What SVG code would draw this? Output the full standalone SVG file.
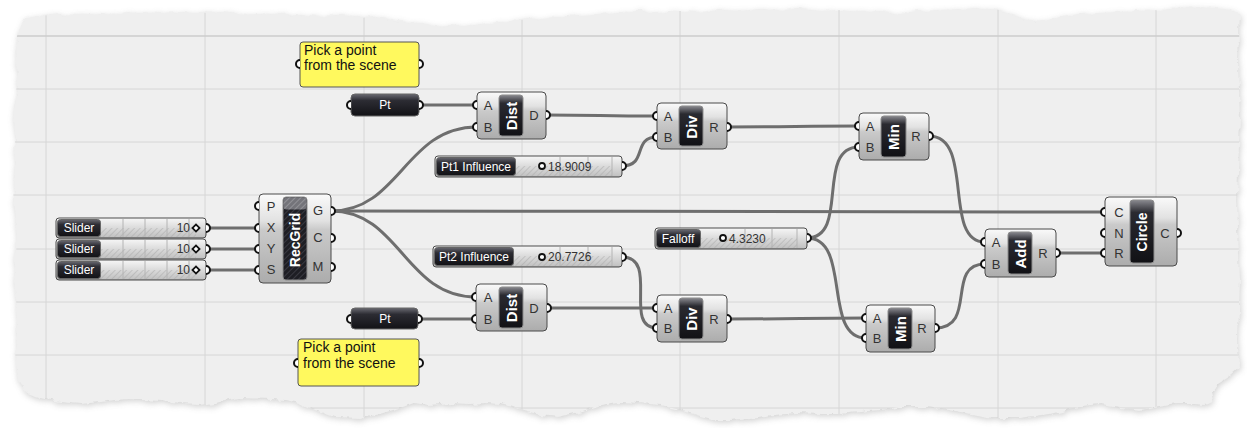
<svg xmlns="http://www.w3.org/2000/svg" width="1247" height="428" viewBox="0 0 1247 428">
<defs>
<linearGradient id="gBody" x1="0" y1="0" x2="0" y2="1">
<stop offset="0" stop-color="#fafafa"/><stop offset="0.3" stop-color="#e2e2e2"/><stop offset="0.4" stop-color="#cacaca"/><stop offset="1" stop-color="#acacac"/>
</linearGradient>
<linearGradient id="gCap" x1="0" y1="0" x2="0" y2="1">
<stop offset="0" stop-color="#8a8a90"/><stop offset="0.2" stop-color="#2a2a30"/><stop offset="1" stop-color="#111115"/>
</linearGradient>
<linearGradient id="gDark" x1="0" y1="0" x2="0" y2="1">
<stop offset="0" stop-color="#6a6a72"/><stop offset="0.3" stop-color="#2c2c33"/><stop offset="1" stop-color="#121216"/>
</linearGradient>
<linearGradient id="gTrack" x1="0" y1="0" x2="0" y2="1">
<stop offset="0" stop-color="#f4f4f4"/><stop offset="0.45" stop-color="#dddddd"/><stop offset="1" stop-color="#c2c2c2"/>
</linearGradient>
<pattern id="hatchD" width="4" height="4" patternUnits="userSpaceOnUse" patternTransform="rotate(45)">
<rect width="4" height="4" fill="#1e1e24"/><line x1="0" y1="0" x2="0" y2="4" stroke="#45454d" stroke-width="1.4"/>
</pattern>
<pattern id="hatch" width="4" height="4" patternUnits="userSpaceOnUse" patternTransform="rotate(45)">
<rect width="4" height="4" fill="#8a8a90"/><line x1="0" y1="0" x2="0" y2="4" stroke="#b5b5b8" stroke-width="1.4"/>
</pattern>
<pattern id="hatchL" width="4" height="4" patternUnits="userSpaceOnUse" patternTransform="rotate(45)">
<rect width="4" height="4" fill="none"/><line x1="0" y1="0" x2="0" y2="4" stroke="#a9a9a9" stroke-width="1"/>
</pattern>
<filter id="rough" x="-2%" y="-5%" width="104%" height="110%">
<feTurbulence type="fractalNoise" baseFrequency="0.09" numOctaves="3" seed="4" result="n"/>
<feDisplacementMap in="SourceGraphic" in2="n" scale="7" xChannelSelector="R" yChannelSelector="G"/>
</filter>
<filter id="shadow" x="-3%" y="-8%" width="106%" height="116%">
<feTurbulence type="fractalNoise" baseFrequency="0.09" numOctaves="3" seed="4" result="n"/>
<feDisplacementMap in="SourceGraphic" in2="n" scale="7" xChannelSelector="R" yChannelSelector="G" result="d"/>
<feGaussianBlur in="d" stdDeviation="3"/>
</filter>
<path id="paper" d="M18,30 L25,18 40,16 60,14 80,15 100,13 120,14 140,12 160,13 180,12 200,13 220,12 240,14 260,13 280,15 300,14 320,16 340,15 360,18 375,17 390,20 405,22 420,24 435,26 450,25 465,27 480,24 500,22 520,20 540,18 560,17 580,15 600,14 620,12 640,11 660,13 680,11 700,12 720,10 740,11 760,9 780,10 800,9 820,11 840,10 860,12 880,11 900,13 920,11 940,10 960,9 980,8 1000,10 1015,16 1030,21 1045,20 1060,16 1080,14 1100,13 1120,12 1140,11 1160,10 1180,8 1200,7 1215,8 1230,10 1240,14 1238,60 1240,120 1237,200 1240,280 1238,340 1239,368 1230,376 1219,383 1212,392 1214,400 1205,404 1195,403 1177,403 1160,406 1140,410 1120,408 1100,405 1074,408 1050,414 1020,418 994,418 970,414 950,410 925,407 899,407 880,410 860,412 840,414 820,414 795,413 775,415 750,418 730,420 716,420 700,416 680,410 660,405 640,403 620,402 600,405 580,412 557,417 540,415 520,409 500,404 485,403 470,404 450,403 430,405 414,403 400,408 380,414 360,418 334,417 315,410 300,403 285,400 270,399 239,398 220,402 200,405 180,404 160,401 140,400 130,399 115,400 100,402 80,404 60,402 40,398 25,392 18,380 15,360 18,320 14,280 17,240 13,200 16,160 14,120 17,80 15,50 Z"/>
<clipPath id="clipPaper"><use href="#paper"/></clipPath>
</defs>
<style>
.body{fill:url(#gBody);stroke:#4a4a4a;stroke-width:1}
.cap{fill:url(#gCap);stroke:#8c8c8c;stroke-width:1}
.port{fill:#fff;stroke:#111;stroke-width:2}
.pl{font-family:"Liberation Sans",Arial,sans-serif;font-size:13px;fill:#333;text-anchor:middle}
.nm{font-family:"Liberation Sans",Arial,sans-serif;font-size:15px;font-weight:bold;fill:#fff;text-anchor:middle;dominant-baseline:central}
.wire{fill:none;stroke:#6e6e6e;stroke-width:3;stroke-linecap:round}
.dark{fill:url(#gDark);stroke:#666;stroke-width:1}
.lab{font-family:"Liberation Sans",Arial,sans-serif;font-size:12px;fill:#fff;text-anchor:middle}
.val{font-family:"Liberation Sans",Arial,sans-serif;font-size:12px;fill:#333}
.track{fill:url(#gTrack)}
.trackh{fill:url(#hatchL)}
.tick{stroke:#b4b4b4;stroke-width:1}
.grip{fill:#fff;stroke:#111;stroke-width:1.8}
.panel{fill:#fff95e;stroke:#555;stroke-width:1}
.ptxt{font-family:"Liberation Sans",Arial,sans-serif;font-size:14px;fill:#111}
.grid{stroke:#d6d6d6;stroke-width:1}
</style>
<rect width="1247" height="428" fill="#ffffff"/>
<g id="canvas">
<use href="#paper" fill="#9a9a9a" opacity="0.45" filter="url(#shadow)" transform="translate(1,2)"/>
<use href="#paper" fill="#efefef" filter="url(#rough)"/>
<g clip-path="url(#clipPaper)">
<path class="grid" d="M46,0V428M205,0V428M364,0V428M522,0V428M680,0V428M839,0V428M998,0V428M1156,0V428M0,89H1247M0,142H1247M0,195H1247M0,249H1247M0,302H1247M0,355H1247M0,408H1247"/>
<path d="M0,36H1247" stroke="#cdcdcd" stroke-width="1.5"/>
</g>
</g>

<g id="connectors">
<path class="wire" d="M206,228 H259"/>
<path class="wire" d="M206,249 H259"/>
<path class="wire" d="M206,270 H259"/>
<path class="wire" d="M331,211 C400,211 405,127 477,127"/>
<path class="wire" d="M331,211 C400,211 405,297 476,297"/>
<path class="wire" d="M331,211 C600,211 800,212 1105,212"/>
<path class="wire" d="M419,105 H477"/>
<path class="wire" d="M546,115 C600,115 600,116 657,116"/>
<path class="wire" d="M622,166 C648,166 632,137 657,137"/>
<path class="wire" d="M727,127 C790,127 800,126 859,126"/>
<path class="wire" d="M807,238 C850,238 815,147 859,147"/>
<path class="wire" d="M807,238 C852,238 822,338 866,338"/>
<path class="wire" d="M622,257 C660,257 622,328 657,328"/>
<path class="wire" d="M547,308 H657"/>
<path class="wire" d="M418,319 H476"/>
<path class="wire" d="M727,319 C800,319 800,318 866,318"/>
<path class="wire" d="M929,136 C975,136 942,242 985,242"/>
<path class="wire" d="M935,328 C978,328 945,264 985,264"/>
<path class="wire" d="M1056,253 H1105"/>
</g>

<g id="slider1">
<rect class="body" x="56" y="218" width="150" height="20" rx="3"/>
<rect class="track" x="101" y="219" width="104" height="18"/>
<rect class="trackh" x="101" y="228" width="95" height="9"/>
<path class="tick" d="M123,219V237M145,219V237M167,219V237M189,219V237"/>
<rect class="dark" x="57.5" y="219.5" width="43" height="17" rx="3"/>
<text class="lab" x="79" y="232">Slider</text>
<text class="val" x="190" y="232" text-anchor="end">10</text>
<rect class="grip" x="193.5" y="225.5" width="5" height="5" transform="rotate(45 196 228)"/>
<path class="port" d="M206,224 a4,4 0 0 1 0,8"/>
</g>
<g id="slider2">
<rect class="body" x="56" y="239" width="150" height="20" rx="3"/>
<rect class="track" x="101" y="240" width="104" height="18"/>
<rect class="trackh" x="101" y="249" width="95" height="9"/>
<path class="tick" d="M123,240V258M145,240V258M167,240V258M189,240V258"/>
<rect class="dark" x="57.5" y="240.5" width="43" height="17" rx="3"/>
<text class="lab" x="79" y="253">Slider</text>
<text class="val" x="190" y="253" text-anchor="end">10</text>
<rect class="grip" x="193.5" y="246.5" width="5" height="5" transform="rotate(45 196 249)"/>
<path class="port" d="M206,245 a4,4 0 0 1 0,8"/>
</g>
<g id="slider3">
<rect class="body" x="56" y="260" width="150" height="20" rx="3"/>
<rect class="track" x="101" y="261" width="104" height="18"/>
<rect class="trackh" x="101" y="270" width="95" height="9"/>
<path class="tick" d="M123,261V279M145,261V279M167,261V279M189,261V279"/>
<rect class="dark" x="57.5" y="261.5" width="43" height="17" rx="3"/>
<text class="lab" x="79" y="274">Slider</text>
<text class="val" x="190" y="274" text-anchor="end">10</text>
<rect class="grip" x="193.5" y="267.5" width="5" height="5" transform="rotate(45 196 270)"/>
<path class="port" d="M206,266 a4,4 0 0 1 0,8"/>
</g>

<g id="recgrid">
<rect class="body" x="259" y="194" width="72" height="89" rx="4"/>
<rect x="283" y="197" width="24" height="83" rx="3" fill="url(#hatchD)" stroke="#8c8c8c"/>
<rect x="283.5" y="197.5" width="23" height="12" rx="3" fill="url(#hatch)" opacity="0.8"/>
<text class="nm" style="font-size:14px" transform="translate(295,240) rotate(-90)">RecGrid</text>
<text class="pl" x="271" y="211">P</text>
<text class="pl" x="271" y="232">X</text>
<text class="pl" x="271" y="253">Y</text>
<text class="pl" x="271" y="274">S</text>
<text class="pl" x="318" y="215">G</text>
<text class="pl" x="318" y="242">C</text>
<text class="pl" x="318" y="271">M</text>
<path class="port" d="M259,202 a4,4 0 0 0 0,8"/>
<path class="port" d="M259,224 a4,4 0 0 0 0,8"/>
<path class="port" d="M259,245 a4,4 0 0 0 0,8"/>
<path class="port" d="M259,266 a4,4 0 0 0 0,8"/>
<path class="port" d="M331,207 a4,4 0 0 1 0,8"/>
<path class="port" d="M331,234 a4,4 0 0 1 0,8"/>
<path class="port" d="M331,263 a4,4 0 0 1 0,8"/>
</g>

<g id="panel1">
<rect class="panel" x="300" y="42" width="119" height="45" rx="3"/>
<text class="ptxt" x="304" y="55">Pick a point</text>
<text class="ptxt" x="304" y="70">from the scene</text>
<path class="port" d="M300,60 a4,4 0 0 0 0,8"/>
<path class="port" d="M419,60 a4,4 0 0 1 0,8"/>
</g>

<g id="pt1">
<rect class="dark" x="351" y="94" width="68" height="22" rx="4"/>
<text class="lab" x="385" y="109">Pt</text>
<path class="port" d="M351,101 a4,4 0 0 0 0,8"/>
<path class="port" d="M419,101 a4,4 0 0 1 0,8"/>
</g>

<g id="dist1">
<rect class="body" x="477" y="92" width="69" height="47" rx="4"/>
<rect class="cap" x="499" y="95" width="24" height="41" rx="3"/>
<text class="nm" transform="translate(511,116) rotate(-90)">Dist</text>
<text class="pl" x="488" y="110">A</text>
<text class="pl" x="488" y="132">B</text>
<text class="pl" x="534" y="120">D</text>
<path class="port" d="M477,101 a4,4 0 0 0 0,8"/>
<path class="port" d="M477,123 a4,4 0 0 0 0,8"/>
<path class="port" d="M546,111 a4,4 0 0 1 0,8"/>
</g>

<g id="div1">
<rect class="body" x="657" y="103" width="70" height="46" rx="4"/>
<rect class="cap" x="679" y="106" width="24" height="40" rx="3"/>
<text class="nm" transform="translate(691,127) rotate(-90)">Div</text>
<text class="pl" x="668" y="121">A</text>
<text class="pl" x="668" y="142">B</text>
<text class="pl" x="714" y="132">R</text>
<path class="port" d="M657,112 a4,4 0 0 0 0,8"/>
<path class="port" d="M657,133 a4,4 0 0 0 0,8"/>
<path class="port" d="M727,123 a4,4 0 0 1 0,8"/>
</g>

<g id="pt1influence">
<rect class="body" x="435" y="156" width="187" height="21" rx="3"/>
<rect class="track" x="516" y="157" width="105" height="19"/>
<rect class="trackh" x="516" y="166" width="96" height="10"/>
<path class="tick" d="M560,157V176M588,157V176M612,157V176"/>
<rect class="dark" x="436.5" y="157.5" width="79" height="18" rx="3"/>
<text class="lab" x="476" y="171">Pt1 Influence</text>
<circle class="grip" cx="542" cy="166" r="3"/>
<text class="val" x="548" y="171">18.9009</text>
<path class="port" d="M622,162 a4,4 0 0 1 0,8"/>
</g>

<g id="min1">
<rect class="body" x="859" y="113" width="70" height="47" rx="4"/>
<rect class="cap" x="881" y="116" width="25" height="41" rx="3"/>
<text class="nm" transform="translate(893.5,137) rotate(-90)">Min</text>
<text class="pl" x="870" y="131">A</text>
<text class="pl" x="870" y="152">B</text>
<text class="pl" x="916" y="141">R</text>
<path class="port" d="M859,122 a4,4 0 0 0 0,8"/>
<path class="port" d="M859,143 a4,4 0 0 0 0,8"/>
<path class="port" d="M929,132 a4,4 0 0 1 0,8"/>
</g>

<g id="falloff">
<rect class="body" x="655" y="228" width="152" height="21" rx="3"/>
<rect class="track" x="701" y="229" width="105" height="19"/>
<rect class="trackh" x="701" y="238" width="96" height="10"/>
<path class="tick" d="M745,229V248M772,229V248M797,229V248"/>
<rect class="dark" x="656.5" y="229.5" width="44" height="18" rx="3"/>
<text class="lab" x="678" y="243">Falloff</text>
<circle class="grip" cx="723" cy="238" r="3"/>
<text class="val" x="729" y="243">4.3230</text>
<path class="port" d="M807,234 a4,4 0 0 1 0,8"/>
</g>

<g id="pt2influence">
<rect class="body" x="433" y="246" width="189" height="21" rx="3"/>
<rect class="track" x="514" y="247" width="107" height="19"/>
<rect class="trackh" x="514" y="256" width="98" height="10"/>
<path class="tick" d="M560,247V266M588,247V266M612,247V266"/>
<rect class="dark" x="434.5" y="247.5" width="79" height="18" rx="3"/>
<text class="lab" x="474" y="261">Pt2 Influence</text>
<circle class="grip" cx="542" cy="257" r="3"/>
<text class="val" x="548" y="261">20.7726</text>
<path class="port" d="M622,253 a4,4 0 0 1 0,8"/>
</g>

<g id="dist2">
<rect class="body" x="476" y="284" width="71" height="47" rx="4"/>
<rect class="cap" x="499" y="287" width="24" height="41" rx="3"/>
<text class="nm" transform="translate(511,308) rotate(-90)">Dist</text>
<text class="pl" x="488" y="302">A</text>
<text class="pl" x="488" y="324">B</text>
<text class="pl" x="534" y="313">D</text>
<path class="port" d="M476,293 a4,4 0 0 0 0,8"/>
<path class="port" d="M476,315 a4,4 0 0 0 0,8"/>
<path class="port" d="M547,304 a4,4 0 0 1 0,8"/>
</g>

<g id="pt2">
<rect class="dark" x="351" y="308" width="67" height="21" rx="4"/>
<text class="lab" x="385" y="323">Pt</text>
<path class="port" d="M351,315 a4,4 0 0 0 0,8"/>
<path class="port" d="M418,315 a4,4 0 0 1 0,8"/>
</g>

<g id="panel2">
<rect class="panel" x="298" y="339" width="121" height="47" rx="3"/>
<text class="ptxt" x="303" y="352">Pick a point</text>
<text class="ptxt" x="303" y="368">from the scene</text>
<path class="port" d="M298,359 a4,4 0 0 0 0,8"/>
<path class="port" d="M419,359 a4,4 0 0 1 0,8"/>
</g>

<g id="div2">
<rect class="body" x="657" y="295" width="70" height="47" rx="4"/>
<rect class="cap" x="679" y="298" width="24" height="41" rx="3"/>
<text class="nm" transform="translate(691,319) rotate(-90)">Div</text>
<text class="pl" x="668" y="313">A</text>
<text class="pl" x="668" y="333">B</text>
<text class="pl" x="714" y="324">R</text>
<path class="port" d="M657,304 a4,4 0 0 0 0,8"/>
<path class="port" d="M657,324 a4,4 0 0 0 0,8"/>
<path class="port" d="M727,315 a4,4 0 0 1 0,8"/>
</g>

<g id="min2">
<rect class="body" x="866" y="305" width="69" height="47" rx="4"/>
<rect class="cap" x="888" y="308" width="24" height="41" rx="3"/>
<text class="nm" transform="translate(900,329) rotate(-90)">Min</text>
<text class="pl" x="877" y="323">A</text>
<text class="pl" x="877" y="343">B</text>
<text class="pl" x="922" y="333">R</text>
<path class="port" d="M866,314 a4,4 0 0 0 0,8"/>
<path class="port" d="M866,334 a4,4 0 0 0 0,8"/>
<path class="port" d="M935,324 a4,4 0 0 1 0,8"/>
</g>

<g id="add">
<rect class="body" x="985" y="229" width="71" height="48" rx="4"/>
<rect class="cap" x="1008" y="232" width="24" height="42" rx="3"/>
<text class="nm" transform="translate(1020,254) rotate(-90)">Add</text>
<text class="pl" x="996" y="247">A</text>
<text class="pl" x="996" y="269">B</text>
<text class="pl" x="1043" y="258">R</text>
<path class="port" d="M985,238 a4,4 0 0 0 0,8"/>
<path class="port" d="M985,260 a4,4 0 0 0 0,8"/>
<path class="port" d="M1056,249 a4,4 0 0 1 0,8"/>
</g>

<g id="circle">
<rect class="body" x="1105" y="197" width="72" height="69" rx="4"/>
<rect class="cap" x="1130" y="200" width="24" height="63" rx="3"/>
<text class="nm" style="font-size:14px" transform="translate(1142,232) rotate(-90)">Circle</text>
<text class="pl" x="1119" y="217">C</text>
<text class="pl" x="1119" y="238">N</text>
<text class="pl" x="1119" y="258">R</text>
<text class="pl" x="1165" y="238">C</text>
<path class="port" d="M1105,208 a4,4 0 0 0 0,8"/>
<path class="port" d="M1105,229 a4,4 0 0 0 0,8"/>
<path class="port" d="M1105,249 a4,4 0 0 0 0,8"/>
<path class="port" d="M1177,229 a4,4 0 0 1 0,8"/>
</g>
</svg>
